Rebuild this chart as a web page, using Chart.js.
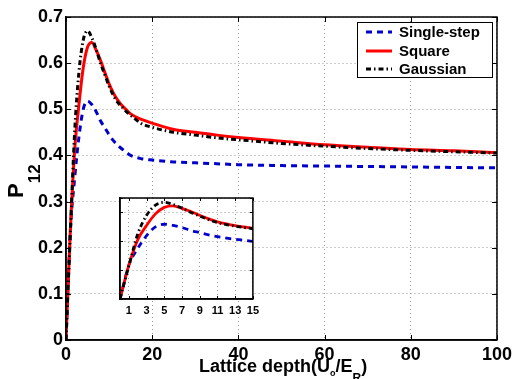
<!DOCTYPE html>
<html>
<head>
<meta charset="utf-8">
<script src="https://cdn.jsdelivr.net/npm/chart.js@4/dist/chart.umd.min.js"></script>
<style>
  body { margin: 0; background: #fff; }
  #wrap { position: relative; width: 516px; height: 379px; overflow: hidden; }
  #mainChart { position: absolute; left: 0; top: 0; }
  #insetChart { position: absolute; left: 110px; top: 190px; }
</style>
</head>
<body>
<div id="wrap">
  <canvas id="mainChart" width="516" height="379"></canvas>
  <canvas id="insetChart" width="154" height="130"></canvas>
</div>
<script>
// lattice depth (U0/ER)
const depths = [0, 1, 2, 3, 4, 5, 6, 7, 8, 9, 10, 11, 12, 13, 14, 15, 17.5, 20, 25, 30, 35, 40, 50, 60, 70, 80, 90, 100];

const singleStep = [0, 0.235, 0.35, 0.44, 0.50, 0.518, 0.51, 0.495, 0.475, 0.46, 0.445, 0.432, 0.422, 0.414, 0.407, 0.40,
  0.393, 0.39, 0.386, 0.384, 0.382, 0.38, 0.378, 0.377, 0.376, 0.375, 0.374, 0.373];
const square = [0, 0.235, 0.41, 0.51, 0.59, 0.635, 0.645, 0.628, 0.606, 0.58, 0.555, 0.535, 0.52, 0.508, 0.499, 0.49,
  0.478, 0.47, 0.456, 0.45, 0.444, 0.439, 0.431, 0.423, 0.418, 0.413, 0.41, 0.406];
const gaussian = [0, 0.23, 0.45, 0.58, 0.65, 0.67, 0.655, 0.63, 0.60, 0.575, 0.55, 0.53, 0.515, 0.505, 0.495, 0.487,
  0.469, 0.461, 0.45, 0.444, 0.438, 0.434, 0.426, 0.42, 0.415, 0.411, 0.408, 0.405];

const seriesNames = ["Single-step", "Square", "Gaussian"];

const xTicks = [0, 20, 40, 60, 80, 100];
const yTicks = [0, 0.1, 0.2, 0.3, 0.4, 0.5, 0.6, 0.7];
const insetXTicks = [1, 3, 5, 7, 9, 11, 13, 15];
const insetYTicks = [0, 0.2, 0.4, 0.6, 0.7];

const FONT = "'Liberation Sans', Arial, sans-serif";

function toPoints(values) {
  return depths.map((x, i) => ({ x: x, y: values[i] }));
}

function makeDatasets(w) {
  return [
    {
      label: seriesNames[0],
      data: toPoints(singleStep),
      borderColor: "#0000cc",
      borderWidth: w,
      borderDash: [6, 5],
      order: 3,
    },
    {
      label: seriesNames[1],
      data: toPoints(square),
      borderColor: "#ff0000",
      borderWidth: w,
      order: 2,
    },
    {
      label: seriesNames[2],
      data: toPoints(gaussian),
      borderColor: "#000000",
      borderWidth: w,
      borderDash: [5, 3, 1.5, 3],
      order: 1,
    },
  ];
}

// box around plot area + inward ticks on all four sides
const framePlugin = {
  id: "frame",
  beforeDraw(chart, args, opts) {
    if (!opts.fill) return;
    const a = chart.chartArea;
    const ctx = chart.ctx;
    ctx.save();
    ctx.fillStyle = "#fff";
    ctx.fillRect(a.left, a.top, a.right - a.left, a.bottom - a.top);
    ctx.restore();
  },
  afterDraw(chart, args, opts) {
    const a = chart.chartArea;
    const ctx = chart.ctx;
    const len = opts.tick || 5;
    ctx.save();
    ctx.strokeStyle = "#000";
    ctx.lineWidth = 1.5;
    ctx.setLineDash([]);
    ctx.strokeRect(a.left, a.top, a.right - a.left, a.bottom - a.top);
    ctx.lineWidth = 1;
    ctx.beginPath();
    chart.scales.x.ticks.forEach((t) => {
      const px = Math.round(chart.scales.x.getPixelForValue(t.value)) + 0.5;
      ctx.moveTo(px, a.bottom);
      ctx.lineTo(px, a.bottom - len);
      ctx.moveTo(px, a.top);
      ctx.lineTo(px, a.top + len);
    });
    chart.scales.y.ticks.forEach((t) => {
      const py = Math.round(chart.scales.y.getPixelForValue(t.value)) + 0.5;
      ctx.moveTo(a.left, py);
      ctx.lineTo(a.left + len, py);
      ctx.moveTo(a.right, py);
      ctx.lineTo(a.right - len, py);
    });
    ctx.stroke();
    ctx.restore();
  },
};

// axis titles with subscripts and the boxed legend
const decorPlugin = {
  id: "decor",
  afterDraw(chart) {
    const ctx = chart.ctx;
    ctx.save();
    ctx.fillStyle = "#000";
    ctx.textBaseline = "alphabetic";
    ctx.textAlign = "left";

    // y title: P_12, rotated
    ctx.save();
    ctx.translate(23, 198);
    ctx.rotate(-Math.PI / 2);
    ctx.font = "bold 22px " + FONT;
    ctx.fillText("P", 0, 0);
    const pw = ctx.measureText("P").width;
    ctx.font = "bold 17px " + FONT;
    ctx.fillText("12", pw, 17);
    ctx.restore();

    // x title: Lattice depth(U_o/E_R)
    let x = 199;
    const base = 372;
    const parts = [
      ["Lattice depth(U", 18, 0],
      ["o", 9, 4],
      ["/E", 18, 0],
      ["R", 12, 10],
      [")", 18, 0],
    ];
    parts.forEach(([txt, size, dy]) => {
      ctx.font = "bold " + size + "px " + FONT;
      ctx.fillText(txt, x, base + dy);
      x += ctx.measureText(txt).width;
    });

    // legend
    const lx = 357.5, ly = 22.5, lw = 135, lh = 55;
    ctx.fillStyle = "#fff";
    ctx.fillRect(lx, ly, lw, lh);
    ctx.strokeStyle = "#000";
    ctx.lineWidth = 1;
    ctx.strokeRect(lx, ly, lw, lh);
    const rows = [32, 51, 69];
    chart.data.datasets.forEach((ds, i) => {
      ctx.beginPath();
      ctx.strokeStyle = ds.borderColor;
      ctx.lineWidth = 3;
      ctx.setLineDash(ds.borderDash || []);
      ctx.moveTo(366, rows[i]);
      ctx.lineTo(392, rows[i]);
      ctx.stroke();
      ctx.setLineDash([]);
      ctx.fillStyle = "#000";
      ctx.font = "bold 15px " + FONT;
      ctx.textBaseline = "middle";
      ctx.fillText(ds.label, 399, rows[i] + 1);
    });
    ctx.restore();
  },
};

function createMainChart() {
  const ctx = document.getElementById("mainChart").getContext("2d");
  return new Chart(ctx, {
    type: "line",
    data: { datasets: makeDatasets(3) },
    plugins: [framePlugin, decorPlugin],
    options: {
      responsive: false,
      animation: false,
      devicePixelRatio: 1,
      layout: { padding: { top: 17, right: 19, left: 0, bottom: 0 } },
      elements: { point: { radius: 0 }, line: { cubicInterpolationMode: "monotone" } },
      scales: {
        x: {
          type: "linear",
          min: 0,
          max: 100,
          afterBuildTicks: (s) => { s.ticks = xTicks.map((v) => ({ value: v })); },
          afterFit: (s) => { s.height = 39; },
          ticks: {
            color: "#000",
            padding: 4,
            maxRotation: 0,
            font: { family: FONT, size: 18, weight: "bold" },
            callback: (v) => String(v),
          },
          grid: { color: "#9a9a9a", lineWidth: 1, drawTicks: false },
          border: { color: "#000", width: 1.5, dash: [1, 3] },
        },
        y: {
          min: 0,
          max: 0.7,
          afterBuildTicks: (s) => { s.ticks = yTicks.map((v) => ({ value: v })); },
          afterFit: (s) => { s.width = 66; },
          ticks: {
            color: "#000",
            padding: 3,
            font: { family: FONT, size: 18, weight: "bold" },
            callback: (v) => String(v),
          },
          grid: { color: "#9a9a9a", lineWidth: 1, drawTicks: false },
          border: { color: "#000", width: 1.5, dash: [1, 3] },
        },
      },
      plugins: {
        legend: { display: false },
        tooltip: { enabled: false },
        frame: { tick: 5 },
      },
    },
  });
}

function createInsetChart() {
  const ctx = document.getElementById("insetChart").getContext("2d");
  return new Chart(ctx, {
    type: "line",
    data: { datasets: makeDatasets(2.8) },
    plugins: [framePlugin],
    options: {
      responsive: false,
      animation: false,
      devicePixelRatio: 1,
      layout: { padding: { top: 8, right: 10, left: 10, bottom: 0 } },
      elements: { point: { radius: 0 }, line: { cubicInterpolationMode: "monotone" } },
      scales: {
        x: {
          type: "linear",
          min: 0,
          max: 15,
          afterBuildTicks: (s) => { s.ticks = insetXTicks.map((v) => ({ value: v })); },
          afterFit: (s) => { s.height = 21; },
          ticks: {
            color: "#000",
            padding: 5,
            maxRotation: 0,
            autoSkip: false,
            font: { family: FONT, size: 11, weight: "bold" },
            callback: (v) => String(v),
          },
          grid: { color: "#9a9a9a", lineWidth: 1, drawTicks: false },
          border: { color: "#000", width: 1.5, dash: [1, 3] },
        },
        y: {
          min: 0,
          max: 0.7,
          afterBuildTicks: (s) => { s.ticks = insetYTicks.map((v) => ({ value: v })); },
          afterFit: (s) => { s.width = 0; },
          ticks: { display: false },
          grid: { color: "#9a9a9a", lineWidth: 1, drawTicks: false },
          border: { color: "#000", width: 1.5, dash: [1, 3] },
        },
      },
      plugins: {
        legend: { display: false },
        tooltip: { enabled: false },
        frame: { tick: 3, fill: true },
      },
    },
  });
}

document.addEventListener("DOMContentLoaded", function () {
  createMainChart();
  createInsetChart();
});
</script>
</body>
</html>
